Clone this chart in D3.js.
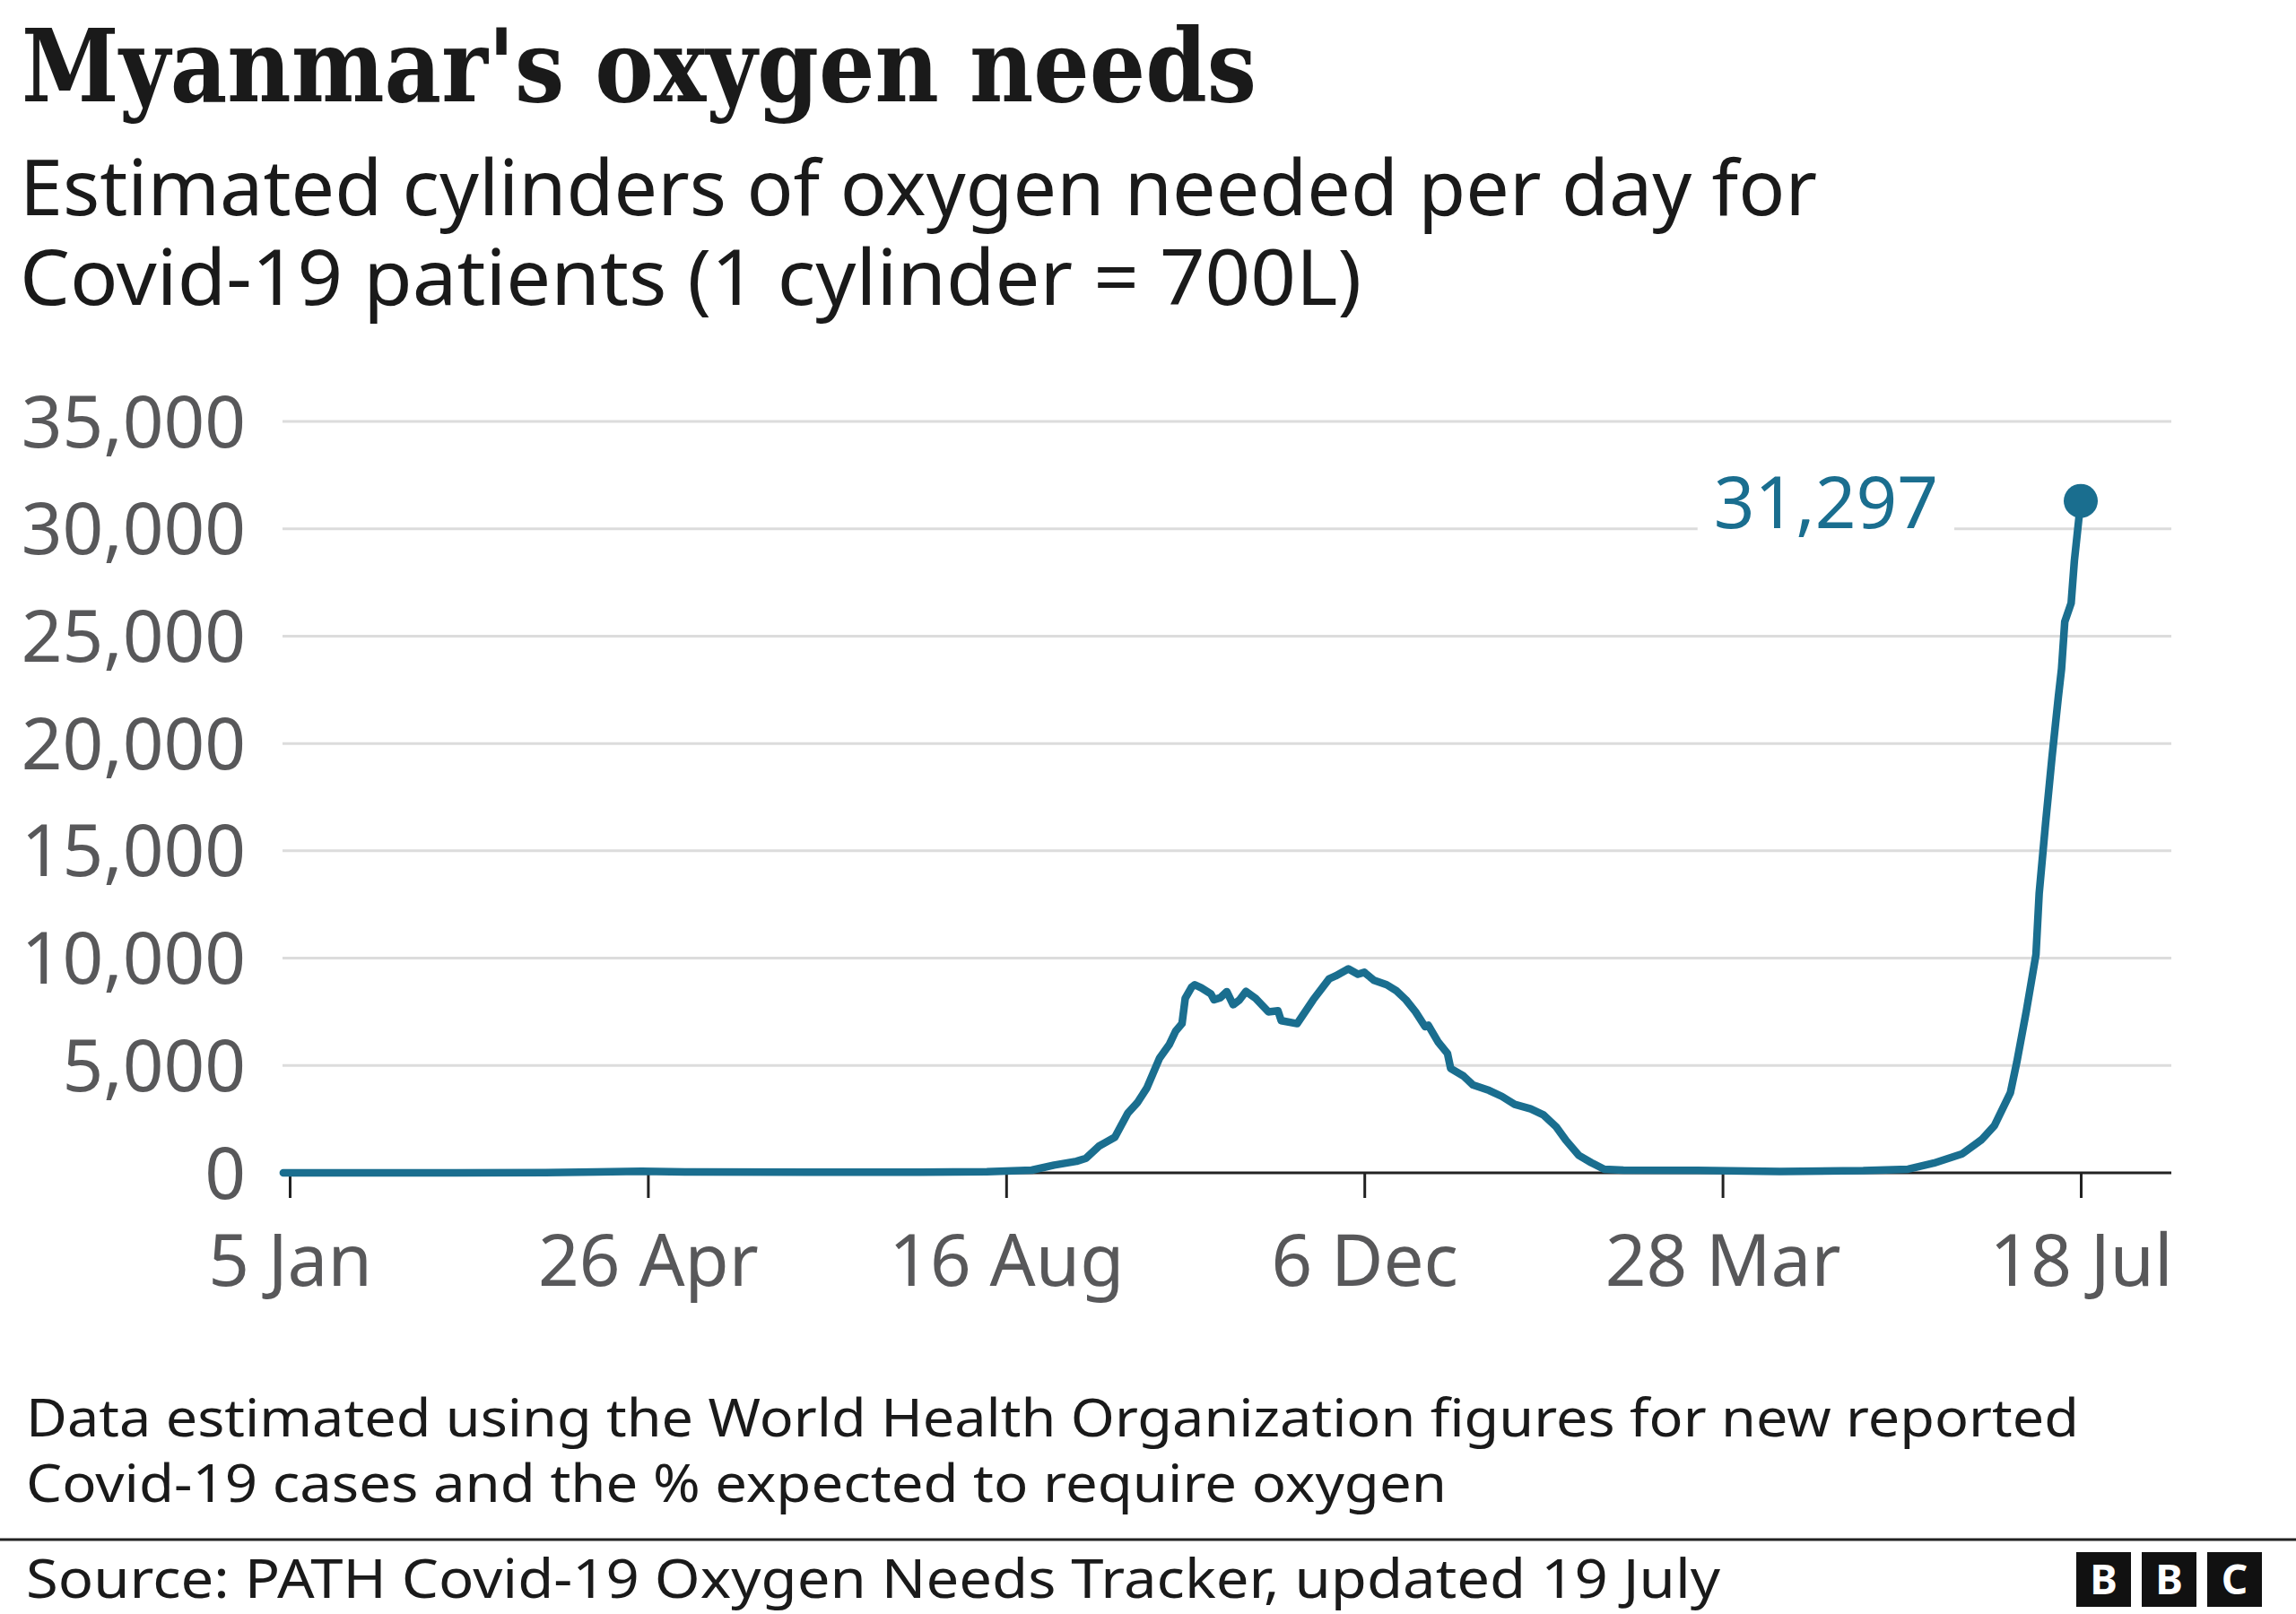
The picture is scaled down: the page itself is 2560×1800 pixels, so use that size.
<!DOCTYPE html>
<html lang="en">
<head>
<meta charset="UTF-8">
<title>Myanmar's oxygen needs</title>
<style>
  body { margin: 0; background: #fff; }
  svg { display: block; }
  text { font-family: "Noto Sans", "Open Sans", sans-serif; }
</style>
</head>
<body>
<svg id="chart" width="2560" height="1800"></svg>
<script src="https://d3js.org/d3.v7.min.js"></script>
<script>

// Data

const dates = [
  "2020-01-03", "2020-02-15", "2020-03-25", "2020-04-10", "2020-04-24", "2020-05-10",
  "2020-06-15", "2020-07-20", "2020-08-10", "2020-08-18", "2020-08-24", "2020-08-31",
  "2020-09-07", "2020-09-10", "2020-09-14", "2020-09-19", "2020-09-23", "2020-09-26",
  "2020-09-29", "2020-10-01", "2020-10-03", "2020-10-06", "2020-10-08", "2020-10-10",
  "2020-10-11", "2020-10-13", "2020-10-14", "2020-10-16", "2020-10-19", "2020-10-20",
  "2020-10-22", "2020-10-24", "2020-10-26", "2020-10-28", "2020-10-30", "2020-11-02",
  "2020-11-06", "2020-11-09", "2020-11-10", "2020-11-15", "2020-11-20", "2020-11-25",
  "2020-11-27", "2020-12-01", "2020-12-04", "2020-12-06", "2020-12-09", "2020-12-13",
  "2020-12-16", "2020-12-19", "2020-12-22", "2020-12-25", "2020-12-26", "2020-12-29",
  "2021-01-01", "2021-01-02", "2021-01-06", "2021-01-09", "2021-01-14", "2021-01-18",
  "2021-01-22", "2021-01-27", "2021-01-31", "2021-02-04", "2021-02-07", "2021-02-11",
  "2021-02-15", "2021-02-19", "2021-02-25", "2021-03-20", "2021-04-15", "2021-05-11",
  "2021-05-25", "2021-06-02", "2021-06-11", "2021-06-17", "2021-06-21", "2021-06-26",
  "2021-06-28", "2021-07-01", "2021-07-04", "2021-07-05", "2021-07-07", "2021-07-09",
  "2021-07-11", "2021-07-12", "2021-07-13", "2021-07-15", "2021-07-16", "2021-07-18"
];

const values = [
  0, 0, 10, 40, 70, 40,
  30, 30, 50, 90, 125, 360,
  540, 680, 1240, 1660, 2770, 3260,
  3950, 4650, 5350, 5970, 6600, 6950,
  8130, 8650, 8760, 8620, 8340, 8060,
  8160, 8440, 7830, 8060, 8450, 8130,
  7500, 7550, 7090, 6950, 8060, 9040,
  9170, 9500, 9250, 9340, 8970, 8760,
  8480, 8060, 7500, 6810, 6880, 6110,
  5560, 4860, 4510, 4090, 3840, 3560,
  3190, 2980, 2700, 2140, 1520, 820,
  470, 170, 125, 110, 60, 100,
  170, 450, 890, 1545, 2200, 3730,
  5150, 7550, 10170, 13010, 16280, 19340,
  22180, 23480, 25670, 26540, 28500, 31297
];

const yTicks = [0, 5000, 10000, 15000, 20000, 25000, 30000, 35000];
const xTicks = ["2020-01-05", "2020-04-26", "2020-08-16", "2020-12-06", "2021-03-28", "2021-07-18"];

const TITLE = "Myanmar's oxygen needs";
const SUBTITLE = ["Estimated cylinders of oxygen needed per day for", "Covid-19 patients (1 cylinder = 700L)"];
const NOTE = ["Data estimated using the World Health Organization figures for new reported", "Covid-19 cases and the % expected to require oxygen"];
const SOURCE = "Source: PATH Covid-19 Oxygen Needs Tracker, updated 19 July";

// Layout

const width = 2560;
const height = 1800;
const gridLeft = 315;
const gridRight = 2421;
const LINE_COLOR = "#1a6e8f";

const parse = d3.timeParse("%Y-%m-%d");
const data = dates.map((d, i) => ({ date: parse(d), value: values[i] }));

const x = d3.scaleTime()
  .domain([parse(xTicks[0]), parse(xTicks[xTicks.length - 1])])
  .range([323, 2320]);

const y = d3.scaleLinear()
  .domain([0, 35000])
  .range([1308, 470]);

const svg = d3.select("#chart")
  .attr("viewBox", [0, 0, width, height]);

// Stretch/squash a text to the width measured on the reference.
function fit(sel, w) {
  sel.attr("textLength", w).attr("lengthAdjust", "spacingAndGlyphs");
}

// Multi-line block as one text with tspans.
function block(lines, x0, y0, step, size, widths) {
  const t = svg.append("text")
    .attr("font-size", size)
    .attr("fill", "#1a1a1a");
  t.selectAll("tspan")
    .data(lines)
    .join("tspan")
      .attr("x", x0)
      .attr("y", (d, i) => y0 + i * step)
      .text(d => d)
      .each(function (d, i) { d3.select(this).call(fit, widths[i]); });
  return t;
}

// Titles

svg.append("text")
  .attr("x", 24).attr("y", 113)
  .style("font-family", "'DejaVu Serif Condensed', 'DejaVu Serif', serif")
  .style("font-stretch", "condensed")
  .attr("font-weight", "bold")
  .attr("font-size", 112)
  .attr("fill", "#1a1a1a")
  .text(TITLE)
  .call(fit, 1377);

block(SUBTITLE, 22, 240, 100, 86, [2004, 1496]);

// Grid

svg.append("g")
  .selectAll("line")
  .data(yTicks.filter(t => t > 0))
  .join("line")
    .attr("x1", gridLeft)
    .attr("x2", gridRight)
    .attr("y1", d => y(d))
    .attr("y2", d => y(d))
    .attr("stroke", "#dcdcdc")
    .attr("stroke-width", 3);

// Y axis labels

const yAxis = svg.append("g")
  .call(d3.axisLeft(y).tickValues(yTicks).tickFormat(d3.format(",")).tickSize(0));
yAxis.select(".domain").remove();
yAxis.selectAll("text")
  .attr("x", 274)
  .attr("dy", "0.35em")
  .attr("font-size", 80)
  .attr("font-family", "Noto Sans")
  .attr("fill", "#58585a");

// X axis

const xAxis = svg.append("g")
  .attr("transform", `translate(0,${y(0)})`)
  .call(d3.axisBottom(x).tickValues(xTicks.map(parse)).tickFormat(d3.timeFormat("%-d %b")).tickSize(28));
xAxis.select(".domain").remove();
xAxis.selectAll(".tick line")
  .attr("stroke", "#222")
  .attr("stroke-width", 3);
xAxis.selectAll("text")
  .attr("y", 126)
  .attr("dy", 0)
  .attr("font-size", 80)
  .attr("font-family", "Noto Sans")
  .attr("fill", "#58585a");

svg.append("line")
  .attr("x1", gridLeft)
  .attr("x2", gridRight)
  .attr("y1", y(0))
  .attr("y2", y(0))
  .attr("stroke", "#222")
  .attr("stroke-width", 3);

// Line

const line = d3.line()
  .x(d => x(d.date))
  .y(d => y(d.value));

svg.append("path")
  .datum(data)
  .attr("fill", "none")
  .attr("stroke", LINE_COLOR)
  .attr("stroke-width", 8.5)
  .attr("stroke-linejoin", "round")
  .attr("stroke-linecap", "round")
  .attr("d", line);

// Last value

const last = data[data.length - 1];

const label = svg.append("g");
const labelBg = label.append("rect").attr("fill", "#fff");
const labelText = label.append("text")
  .attr("x", x(last.date) - 159)
  .attr("y", y(last.value) + 30)
  .attr("text-anchor", "end")
  .attr("font-size", 80)
  .attr("fill", LINE_COLOR)
  .text(d3.format(",")(last.value));
const bb = labelText.node().getBBox();
labelBg
  .attr("x", bb.x - 18)
  .attr("y", bb.y)
  .attr("width", bb.width + 36)
  .attr("height", bb.height);

svg.append("circle")
  .attr("cx", x(last.date))
  .attr("cy", y(last.value))
  .attr("r", 19)
  .attr("fill", LINE_COLOR);

// Footer

block(NOTE, 29, 1602, 73, 58, [2289, 1584]);

svg.append("line")
  .attr("x1", 0)
  .attr("x2", width)
  .attr("y1", 1717)
  .attr("y2", 1717)
  .attr("stroke", "#222")
  .attr("stroke-width", 3);

svg.append("text")
  .attr("x", 29)
  .attr("y", 1782)
  .attr("font-size", 61)
  .attr("fill", "#1a1a1a")
  .text(SOURCE)
  .call(fit, 1889);

// BBC blocks

const logo = svg.append("g")
  .selectAll("g")
  .data(["B", "B", "C"])
  .join("g")
    .attr("transform", (d, i) => `translate(${2315 + i * 73},1731)`);

logo.append("rect")
  .attr("width", 61)
  .attr("height", 61)
  .attr("fill", "#111");

logo.append("text")
  .attr("x", 30.5)
  .attr("y", 47)
  .attr("text-anchor", "middle")
  .attr("font-size", 46)
  .attr("font-weight", "bold")
  .attr("fill", "#fff")
  .text(d => d);

</script>
</body>
</html>
